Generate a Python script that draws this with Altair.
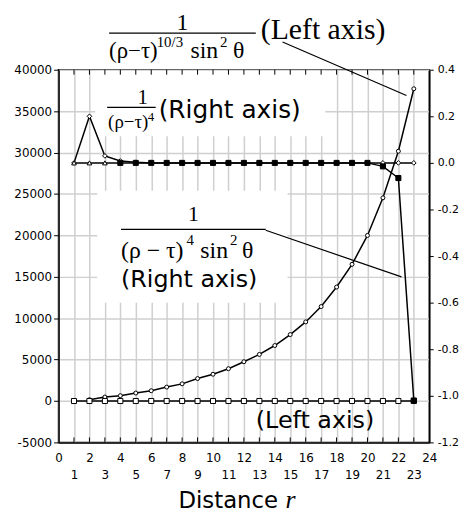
import altair as alt
import pandas as pd

# ---------------- data ----------------
x_all = list(range(1, 24))
circle_x = list(range(2, 24))
circle_vals = [150, 480, 640, 960, 1240, 1680, 2070, 2710, 3230, 3900, 4740,
               5620, 6700, 8020, 9550, 11400, 13760, 16500, 19990, 24530, 30160, 37700]
square_vals = [0] * 23
rightA_vals = [0, 0.2, 0.03, 0.008, 0.003] + [0] * 18
rightB_vals = [0] * 20 + [-0.015, -0.065, -1.02]
x_ticks = list(range(0, 25))
left_ticks = list(range(-5000, 40001, 5000))
right_ticks = [round(-1.2 + 0.2 * i, 1) for i in range(9)]

W, H = 374, 376
X0, Y0 = 59, 68  # page position of plot origin
SERIF = "Liberation Serif"
SANS = "DejaVu Sans"
GRID = "#cfcfcf"
HYPHEN = "replace(datum.label, '\u2212', '-')"

df_circ = pd.DataFrame({"x": circle_x, "v": circle_vals})
df_sq = pd.DataFrame({"x": x_all, "v": square_vals})
df_A = pd.DataFrame({"x": x_all, "v": rightA_vals})
df_B = pd.DataFrame({"x": x_all, "v": rightB_vals})
df_B_open = df_B[df_B.x <= 3]
df_B_fill = df_B[df_B.x >= 4]
df_ticks = pd.DataFrame({"x": x_all})
one = pd.DataFrame({"a": [0]})

xenc = alt.X(
    "x:Q",
    scale=alt.Scale(domain=[0, 24], nice=False, zero=False),
    axis=alt.Axis(
        values=x_ticks, grid=True, gridColor=GRID, gridWidth=1.5,
        ticks=False, labelOverlap=False, labelFlush=False, labelAngle=0,
        labelFont=SANS, labelFontSize=12, labelColor="black",
        labelPadding={"condition": {"test": "datum.value % 2 == 1", "value": 27}, "value": 10},
        domainColor="black", domainWidth=1.5, title=None,
    ),
)
yL = alt.Y(
    "v:Q",
    scale=alt.Scale(domain=[-5000, 40000], nice=False, zero=False),
    axis=alt.Axis(
        values=left_ticks, format="d", labelExpr=HYPHEN, grid=True, gridColor=GRID,
        gridWidth=1.5, tickSize=5, tickColor="black", labelPadding=2, labelFont=SANS,
        labelFontSize=12, labelColor="black", domainColor="black",
        domainWidth=1.5, title=None, orient="left",
    ),
)
yR = alt.Y(
    "v:Q",
    scale=alt.Scale(domain=[-1.2, 0.4], nice=False, zero=False),
    axis=alt.Axis(
        values=right_ticks, format=".1f", labelExpr=HYPHEN, grid=False,
        tickSize=4, tickColor="black", labelPadding=4, labelFont=SANS,
        labelFontSize=11, labelColor="black", domainColor="black",
        domainWidth=1.5, title=None, orient="right",
    ),
)


def px(v):
    return alt.value(v - X0)


def py(v):
    return alt.value(v - Y0)


def box(x1, y1, x2, y2):
    return alt.Chart(one).mark_rect(color="white").encode(
        x=px(x1), x2=px(x2), y=py(y1), y2=py(y2))


def seg(x1, y1, x2, y2, w=1.2):
    return alt.Chart(one).mark_rule(color="black", strokeWidth=w).encode(
        x=px(x1), x2=px(x2), y=py(y1), y2=py(y2))


def txt(s, x, y, size, font=SERIF, align="left", style="normal"):
    return alt.Chart(one).mark_text(
        text=s, align=align, baseline="alphabetic", font=font,
        fontSize=size, fontStyle=style, color="black").encode(x=px(x), y=py(y))


# background boxes behind annotations (cover grid)
boxes = [box(96, 69, 328, 135), box(98, 190, 290, 303)]

ticks_top = alt.Chart(df_ticks).mark_rule(color="black", strokeWidth=1).encode(
    x=xenc, y=alt.value(0), y2=alt.value(5))
ticks_bot = alt.Chart(df_ticks).mark_rule(color="black", strokeWidth=1).encode(
    x=xenc, y=alt.value(H - 5), y2=alt.value(H))

circ_line = alt.Chart(df_circ).mark_line(color="black", strokeWidth=1.5).encode(x=xenc, y=yL)
circ_pts = alt.Chart(df_circ).mark_point(
    shape="circle", size=16, fill="white", stroke="black", strokeWidth=1, opacity=1, filled=False
).encode(x=xenc, y=yL)
sq_line = alt.Chart(df_sq).mark_line(color="black", strokeWidth=1.5).encode(x=xenc, y=yL)
sq_pts = alt.Chart(df_sq).mark_point(
    shape="square", size=26, fill="white", stroke="black", strokeWidth=1, opacity=1, filled=False
).encode(x=xenc, y=yL)

left = alt.layer(*boxes, ticks_top, ticks_bot, circ_line, circ_pts, sq_line, sq_pts)

A_line = alt.Chart(df_A).mark_line(color="black", strokeWidth=1.5).encode(x=xenc, y=yR)
A_pts = alt.Chart(df_A).mark_point(
    shape="diamond", size=22, fill="white", stroke="black", strokeWidth=1, opacity=1, filled=False
).encode(x=xenc, y=yR)
B_line = alt.Chart(df_B).mark_line(color="black", strokeWidth=1.5).encode(x=xenc, y=yR)
B_open = alt.Chart(df_B_open).mark_point(
    shape="triangle-up", size=22, fill="white", stroke="black", strokeWidth=1, opacity=1, filled=False
).encode(x=xenc, y=yR)
B_fill = alt.Chart(df_B_fill).mark_point(
    shape="square", size=26, fill="black", stroke="black", strokeWidth=1, opacity=1, filled=True
).encode(x=xenc, y=yR)

annotations = [
    # top title formula (left axis curve)
    txt("1", 184, 28, 24, align="center"),
    seg(110, 31, 258, 31, 1.3),
    txt("(ρ−τ)", 110, 56, 23),
    txt("10/3", 158, 45, 15),
    txt("sin", 192, 56, 24),
    txt("2", 222, 45, 15),
    txt("θ", 235, 56, 24),
    txt("(Left axis)", 263, 37, 30),
    seg(285, 40, 410, 94, 1.2),
    # 1/(rho - tau)^4 (right axis)
    txt("1", 144, 103, 21, align="center"),
    seg(108, 106, 157, 106, 1.2),
    txt("(ρ−τ)", 109, 127, 19),
    txt("4", 149, 120, 13),
    txt("(Right axis)", 160, 117, 25, font=SANS),
    # 1/((rho - tau)^4 sin^2 theta) (right axis)
    txt("1", 195, 221, 22, align="center"),
    seg(122, 229, 268, 229, 1.2),
    txt("(ρ − τ)", 122, 258, 24),
    txt("4", 188, 245, 15),
    txt("sin", 202, 258, 24),
    txt("2", 232, 245, 15),
    txt("θ", 244, 258, 24),
    txt("(Right axis)", 122, 287, 24, font=SANS),
    seg(268, 230, 405, 277, 1.2),
    # bottom label
    txt("(Left axis)", 258, 429, 24, font=SANS),
    # x title
    txt("Distance", 180, 510, 23, font=SANS),
    txt("r", 288, 510, 26, style="italic"),
]

right = alt.layer(A_line, B_line, A_pts, B_open, B_fill, *annotations)

chart = (
    alt.layer(left, right)
    .resolve_scale(y="independent")
    .properties(
        width=W, height=H,
        autosize=alt.AutoSizeParams(type="none"),
        padding={"left": 51, "top": 60, "right": 30, "bottom": 74},
        background="white",
    )
    .configure_view(stroke="black", strokeWidth=1.5)
)

chart.save("out.html", embed_options={"renderer": "svg", "actions": False})
